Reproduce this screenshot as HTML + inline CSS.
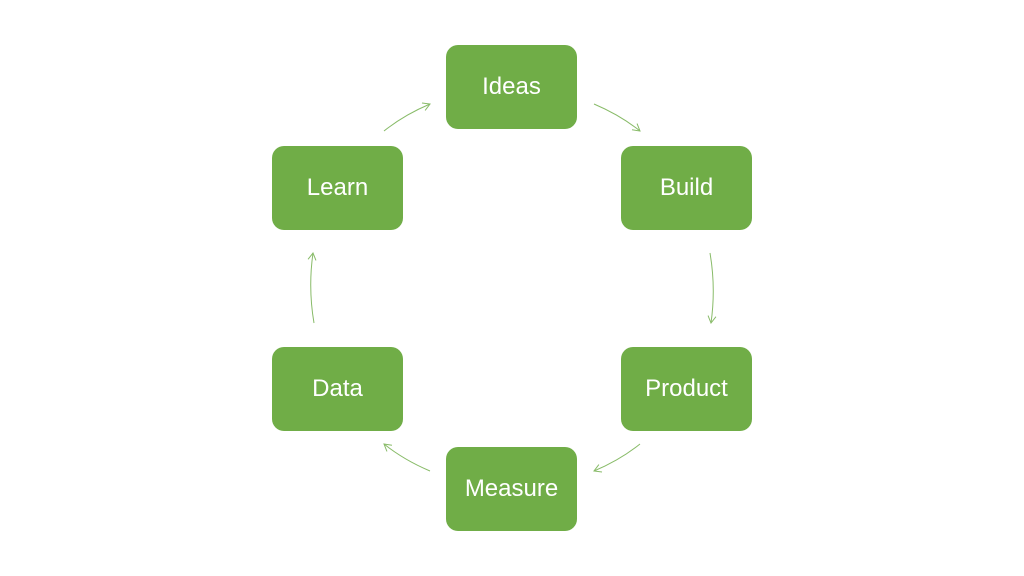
<!DOCTYPE html>
<html><head><style>
body{margin:0;width:1024px;height:576px;background:#fff;position:relative;overflow:hidden;font-family:"Liberation Sans",sans-serif}
.b{position:absolute;width:131px;height:84px;background:#70AD47;border-radius:12px;color:#fff;font-size:24px;display:flex;align-items:center;justify-content:center}
svg{position:absolute;left:0;top:0}
</style></head><body>
<div class="b" style="left:446px;top:45px">Ideas</div>
<div class="b" style="left:621px;top:146px">Build</div>
<div class="b" style="left:621px;top:347px">Product</div>
<div class="b" style="left:446px;top:447px">Measure</div>
<div class="b" style="left:272px;top:347px">Data</div>
<div class="b" style="left:272px;top:146px">Learn</div>
<svg width="1024" height="576" fill="none" stroke="#88bb68" stroke-width="1">
<defs><marker id="a" markerWidth="10" markerHeight="10" refX="8" refY="5" orient="auto" markerUnits="userSpaceOnUse"><path d="M1,1 L8,5 L1,9" stroke="#88bb68" fill="none"/></marker></defs>
<path d="M594,104 Q620,115 640,131" marker-end="url(#a)"/>
<path d="M710,253 Q716,288 711,323" marker-end="url(#a)"/>
<path d="M640,444 Q620,460 594,471" marker-end="url(#a)"/>
<path d="M430,471 Q404,460 384,444" marker-end="url(#a)"/>
<path d="M314,323 Q308,288 313,253" marker-end="url(#a)"/>
<path d="M384,131 Q404,115 430,104" marker-end="url(#a)"/>
</svg>
</body></html>
